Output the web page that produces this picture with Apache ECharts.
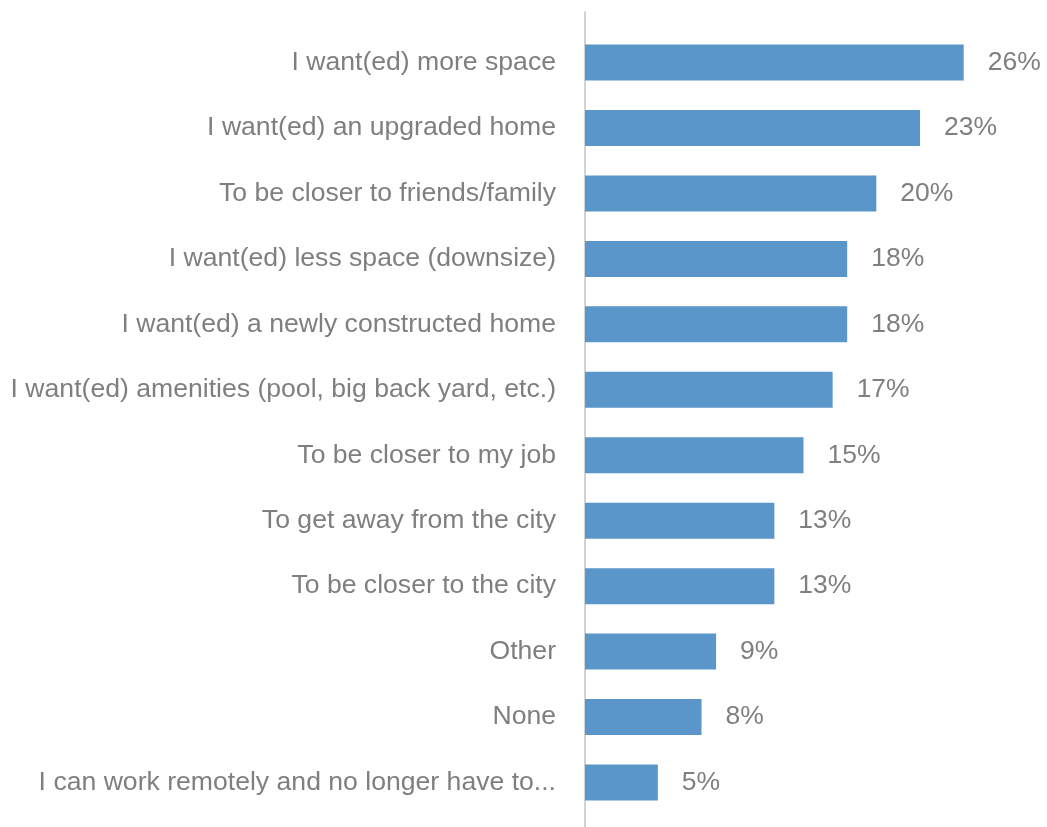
<!DOCTYPE html>
<html>
<head>
<meta charset="utf-8">
<script src="https://cdn.jsdelivr.net/npm/echarts@6/dist/echarts.min.js"></script>
<style>
  html, body { margin: 0; padding: 0; background: #ffffff; }
  #chart { width: 1047px; height: 827px; }
</style>
</head>
<body>
<div id="chart"></div>
<script>
// Reasons for moving, share of respondents (%)
const reasons = [
  'I want(ed) more space',
  'I want(ed) an upgraded home',
  'To be closer to friends/family',
  'I want(ed) less space (downsize)',
  'I want(ed) a newly constructed home',
  'I want(ed) amenities (pool, big back yard, etc.)',
  'To be closer to my job',
  'To get away from the city',
  'To be closer to the city',
  'Other',
  'None',
  'I can work remotely and no longer have to...'
];
const shares = [26, 23, 20, 18, 18, 17, 15, 13, 13, 9, 8, 5];

const textColor = '#7f7f7f';
const barColor = '#5a96c9';
const font = '"Liberation Sans", Arial, sans-serif';

const chart = echarts.init(document.getElementById('chart'), null, { renderer: 'canvas' });
chart.setOption({
  backgroundColor: '#ffffff',
  animation: false,
  grid: [
    { left: 585, right: 25, top: 29.8, bottom: 11.8 },
    // full-height strip carrying the vertical baseline
    { left: 585, right: 25, top: 12, bottom: -2 }
  ],
  xAxis: [
    { gridIndex: 0, type: 'value', min: 0, max: 30, show: false },
    { gridIndex: 1, type: 'value', min: 0, max: 30, show: false }
  ],
  yAxis: [
    {
      gridIndex: 0,
      type: 'category',
      data: reasons,
      inverse: true,
      axisLine: { show: false },
      axisTick: { show: false },
      splitLine: { show: false },
      axisLabel: {
        color: textColor,
        fontFamily: font,
        fontSize: 26.6,
        margin: 29,
        padding: [3, 0, 0, 0]
      }
    },
    {
      gridIndex: 1,
      type: 'category',
      data: [''],
      axisLine: { show: true, lineStyle: { color: '#c4c4c4', width: 1.5 } },
      axisTick: { show: false },
      axisLabel: { show: false },
      splitLine: { show: false }
    }
  ],
  series: [
    {
      type: 'bar',
      xAxisIndex: 0,
      yAxisIndex: 0,
      data: shares,
      barWidth: 36,
      itemStyle: { color: barColor },
      label: {
        show: true,
        position: 'right',
        distance: 24,
        color: textColor,
        fontFamily: font,
        fontSize: 26.5,
        formatter: p => p.value + '%'
      }
    }
  ]
});
</script>
</body>
</html>
